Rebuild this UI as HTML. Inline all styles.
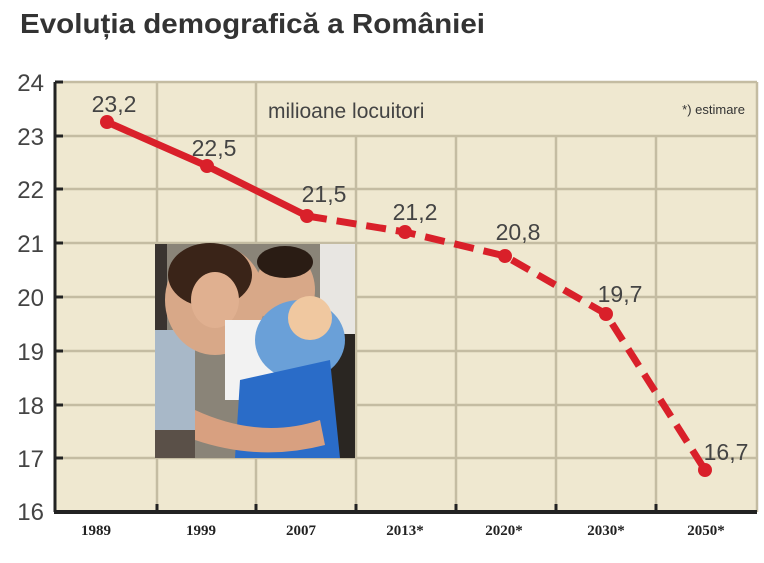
<!DOCTYPE html>
<html><head><meta charset="utf-8"><style>
html,body{margin:0;padding:0;background:#fff;}
body{width:764px;height:563px;overflow:hidden;}
</style></head><body>
<svg width="764" height="563" xmlns="http://www.w3.org/2000/svg" style="display:block">
<rect width="764" height="563" fill="#fff"/>
<text x="20" y="33" textLength="465" lengthAdjust="spacingAndGlyphs" font-family="Liberation Sans Narrow, Liberation Sans, sans-serif" font-weight="bold" font-size="28" fill="#333">Evoluția demografică a României</text>
<rect x="55" y="82" width="702" height="430" fill="#efe8d0"/>
<g stroke="#c4bca2" stroke-width="2.5">
<line x1="55" y1="82" x2="757" y2="82"/>
<line x1="55" y1="136" x2="757" y2="136"/>
<line x1="55" y1="189" x2="757" y2="189"/>
<line x1="55" y1="243" x2="757" y2="243"/>
<line x1="55" y1="297" x2="757" y2="297"/>
<line x1="55" y1="351" x2="757" y2="351"/>
<line x1="55" y1="405" x2="757" y2="405"/>
<line x1="55" y1="458" x2="757" y2="458"/>
<line x1="157" y1="82" x2="157" y2="512"/>
<line x1="256" y1="82" x2="256" y2="512"/>
<line x1="356" y1="136" x2="356" y2="512"/>
<line x1="456" y1="136" x2="456" y2="512"/>
<line x1="556" y1="136" x2="556" y2="512"/>
<line x1="656" y1="136" x2="656" y2="512"/>
<line x1="757" y1="82" x2="757" y2="512"/>
</g>
<line x1="55" y1="82" x2="55" y2="512" stroke="#222" stroke-width="3"/>
<line x1="54" y1="512" x2="757" y2="512" stroke="#222" stroke-width="4"/>
<g stroke="#222" stroke-width="3">
<line x1="55" y1="82" x2="63" y2="82"/><line x1="55" y1="136" x2="63" y2="136"/><line x1="55" y1="189" x2="63" y2="189"/><line x1="55" y1="243" x2="63" y2="243"/><line x1="55" y1="297" x2="63" y2="297"/><line x1="55" y1="351" x2="63" y2="351"/><line x1="55" y1="405" x2="63" y2="405"/><line x1="55" y1="458" x2="63" y2="458"/>
<line x1="157" y1="504" x2="157" y2="512"/><line x1="256" y1="504" x2="256" y2="512"/><line x1="356" y1="504" x2="356" y2="512"/><line x1="456" y1="504" x2="456" y2="512"/><line x1="556" y1="504" x2="556" y2="512"/><line x1="656" y1="504" x2="656" y2="512"/>
</g>
<g font-family="Liberation Sans, sans-serif" font-size="24" fill="#444" text-anchor="end">
<text x="44" y="91">24</text><text x="44" y="145">23</text><text x="44" y="198">22</text><text x="44" y="252">21</text><text x="44" y="306">20</text><text x="44" y="360">19</text><text x="44" y="414">18</text><text x="44" y="467">17</text><text x="44" y="520">16</text>
</g>
<g font-family="Liberation Serif, serif" font-weight="bold" font-size="15" fill="#222" text-anchor="middle">
<text x="96" y="535">1989</text><text x="201" y="535">1999</text><text x="301" y="535">2007</text><text x="405" y="535">2013*</text><text x="504" y="535">2020*</text><text x="606" y="535">2030*</text><text x="706" y="535">2050*</text>
</g>
<text x="268" y="118" font-family="Liberation Sans, sans-serif" font-size="21" fill="#444">milioane locuitori</text>
<text x="745" y="114" font-family="Liberation Sans, sans-serif" font-size="13" fill="#333" text-anchor="end">*) estimare</text>
<g>
<rect x="155" y="244" width="200" height="214" fill="#8a8478"/>
<rect x="155" y="244" width="12" height="214" fill="#3a3430"/>
<rect x="320" y="244" width="35" height="90" fill="#e8e6e2"/>
<rect x="320" y="334" width="35" height="124" fill="#2a2622"/>
<rect x="155" y="330" width="40" height="100" fill="#a8b8c8"/>
<ellipse cx="215" cy="300" rx="50" ry="55" fill="#d8a888"/>
<ellipse cx="210" cy="275" rx="42" ry="32" fill="#3a2418"/>
<ellipse cx="215" cy="300" rx="24" ry="28" fill="#e0b090"/>
<ellipse cx="285" cy="290" rx="30" ry="38" fill="#d8a888"/>
<ellipse cx="285" cy="262" rx="28" ry="16" fill="#2a1c14"/>
<rect x="225" y="320" width="70" height="80" fill="#f2f2f2"/>
<ellipse cx="300" cy="340" rx="45" ry="40" fill="#6aa0d8"/>
<ellipse cx="310" cy="318" rx="22" ry="22" fill="#f0c8a0"/>
<path d="M240 380 L330 360 L340 458 L235 458 Z" fill="#2a6cc8"/>
<path d="M195 410 Q260 440 320 420 L325 445 Q260 462 195 440 Z" fill="#d8a080"/>
<rect x="155" y="430" width="40" height="28" fill="#5a5048"/>
</g>
<polyline points="107,122 207,166 307,216" fill="none" stroke="#d9202a" stroke-width="7" stroke-linejoin="round"/>
<polyline points="307,216 405,232 505,256 606,314 705,470" fill="none" stroke="#d9202a" stroke-width="7" stroke-dasharray="20,10"/>
<g fill="#d9202a">
<circle cx="107" cy="122" r="7"/><circle cx="207" cy="166" r="7"/><circle cx="307" cy="216" r="7"/><circle cx="405" cy="232" r="7"/><circle cx="505" cy="256" r="7"/><circle cx="606" cy="314" r="7"/><circle cx="705" cy="470" r="7"/>
</g>
<g font-family="Liberation Sans, sans-serif" font-size="23" fill="#444" text-anchor="middle">
<text x="114" y="112">23,2</text><text x="214" y="156">22,5</text><text x="324" y="202">21,5</text><text x="415" y="220">21,2</text><text x="518" y="240">20,8</text><text x="620" y="302">19,7</text><text x="726" y="460">16,7</text>
</g>
</svg>
</body></html>
